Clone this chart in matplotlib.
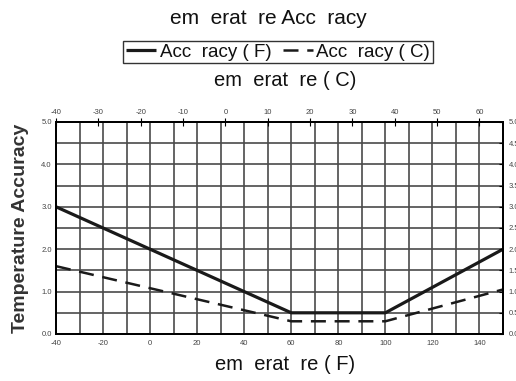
import matplotlib
matplotlib.use("Agg")
import matplotlib.pyplot as plt
import numpy as np

# ---- data ----
temp_f = [-40, 60, 100, 150]
acc_f = [3.0, 0.5, 0.5, 2.0]
acc_c = [1.6, 0.3, 0.3, 1.05]

bottom_ticks = [-40, -20, 0, 20, 40, 60, 80, 100, 120, 140]
top_ticks = [-40, -30, -20, -10, 0, 10, 20, 30, 40, 50, 60]
left_ticks = [0.0, 1.0, 2.0, 3.0, 4.0, 5.0]
right_ticks = [0.0, 0.5, 1.0, 1.5, 2.0, 2.5, 3.0, 3.5, 4.0, 4.5, 5.0]

title = "em  erat  re Acc  racy"
label_f = "Acc  racy ( F)"
label_c = "Acc  racy ( C)"
xlabel_bottom = "em  erat  re ( F)"
xlabel_top = "em  erat  re ( C)"
ylabel = "Temperature Accuracy"

plt.rcParams['font.family'] = ['Liberation Sans', 'DejaVu Sans']

W, H = 516, 381
fig = plt.figure(figsize=(W / 100, H / 100), dpi=100)
L, R, T, B = 56, 503, 122, 334
ax = fig.add_axes([L / W, 1 - B / H, (R - L) / W, (B - T) / H])

xmin, xmax = -40, 150
ax.set_xlim(xmin, xmax)
ax.set_ylim(0, 5)

grid_col = '#4a4a4a'
for xv in np.arange(-30, 150, 10):
    ax.axvline(xv, color=grid_col, lw=1.2, zorder=1)
for yv in np.arange(0.5, 5.0, 0.5):
    ax.axhline(yv, color=grid_col, lw=1.2, zorder=1)

l1, = ax.plot(temp_f, acc_f, color='#1a1a1a', lw=2.3, zorder=3, solid_capstyle='butt')
l2, = ax.plot(temp_f, acc_c, color='#1a1a1a', lw=1.8, zorder=3, dashes=(6, 3.5))

tick_col = '#444444'
ax.set_xticks(bottom_ticks)
ax.set_xticklabels([str(t) for t in bottom_ticks])
ax.set_yticks(left_ticks)
ax.set_yticklabels([f"{t:.1f}" for t in left_ticks])
ax.tick_params(axis='both', labelsize=5.5, labelcolor=tick_col)
ax.tick_params(axis='x', length=0, pad=4)
ax.tick_params(axis='y', length=0, pad=3)

for s in ax.spines.values():
    s.set_color('black')
    s.set_linewidth(1.2)

axt = ax.twiny()
axt.set_xlim((xmin - 32) / 1.8, (xmax - 32) / 1.8)
axt.set_xticks(top_ticks)
axt.set_xticklabels([str(t) for t in top_ticks])
axt.tick_params(axis='x', labelsize=5.5, labelcolor=tick_col, length=6, width=0.8,
                direction='inout', pad=1)

axr = ax.twinx()
axr.set_ylim(0, 5)
axr.set_yticks(right_ticks)
axr.set_yticklabels([f"{t:.1f}" for t in right_ticks])
axr.tick_params(axis='y', labelsize=5.5, labelcolor=tick_col, length=3, width=0.8,
                direction='in', pad=4)
for a in (axt, axr):
    for s in a.spines.values():
        s.set_color('black')
        s.set_linewidth(1.2)

fig.text(268 / W, 1 - 18 / H, title, ha='center', va='center', fontsize=15, color='#111111')
fig.text(285 / W, 1 - 80 / H, xlabel_top, ha='center', va='center', fontsize=14.5, color='#111111')
fig.text(285 / W, 1 - 365 / H, xlabel_bottom, ha='center', va='center', fontsize=14.5, color='#111111')
fig.text(21 / W, 1 - 228 / H, ylabel, ha='center', va='center', rotation=90,
         fontsize=14, fontweight='bold', color='#333333')

leg = fig.legend([l1, l2], [label_f, label_c], loc='center',
                 bbox_to_anchor=(278 / W, 1 - 52 / H), ncol=2, fontsize=13.5,
                 frameon=True, fancybox=False, edgecolor='black', handlelength=1.6,
                 handletextpad=0.2, columnspacing=0.6, borderpad=0.15, borderaxespad=0)
leg.get_frame().set_linewidth(1.0)
for t in leg.get_texts():
    t.set_color('#111111')

fig.savefig('out.png', dpi=100)
